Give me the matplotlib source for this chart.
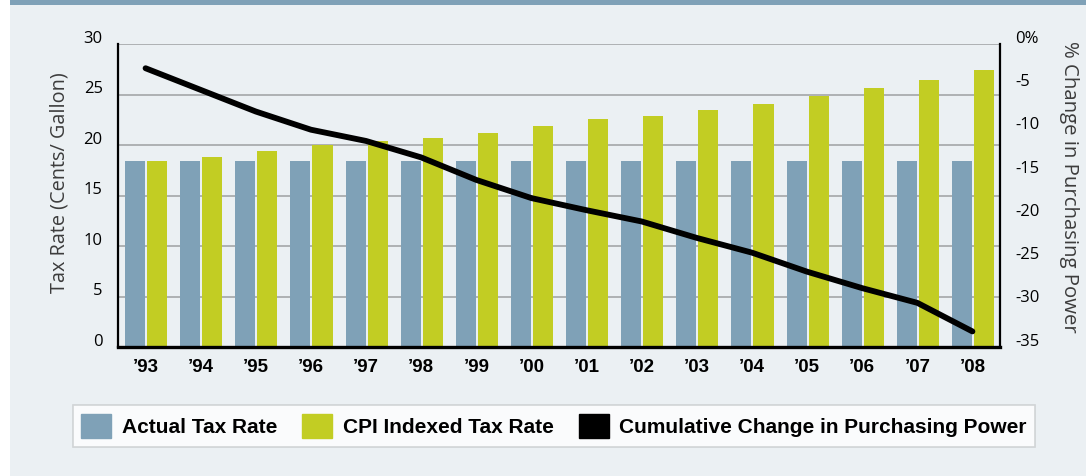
import numpy as np
import matplotlib.pyplot as plt
from matplotlib.patches import Patch, Rectangle
from matplotlib.transforms import ScaledTranslation

years = ["\u201993", "\u201994", "\u201995", "\u201996", "\u201997", "\u201998", "\u201999", "\u201900",
         "\u201901", "\u201902", "\u201903", "\u201904", "\u201905", "\u201906", "\u201907", "\u201908"]
actual_rate = [18.4] * 16
cpi_rate = [18.4, 18.8, 19.4, 20.0, 20.4, 20.7, 21.2, 21.9,
            22.6, 22.9, 23.5, 24.1, 24.9, 25.6, 26.4, 27.4]
purchasing_power = [-2.8, -5.3, -7.8, -9.9, -11.2, -13.1, -15.7, -17.8,
                    -19.2, -20.5, -22.4, -24.1, -26.3, -28.2, -29.9, -33.2]
left_ticks = [0, 5, 10, 15, 20, 25, 30]
right_ticks = [0, -5, -10, -15, -20, -25, -30, -35]
right_labels = ["0%", "-5", "-10", "-15", "-20", "-25", "-30", "-35"]

blue = "#7fa1b7"
green = "#c2cd23"
bg = "#ebf0f3"
label_col = "#3c3c3c"

fig = plt.figure(figsize=(10.86, 4.76), dpi=100)
fig.patch.set_facecolor(bg)
# white strip on the left and blue band on top
fig.patches.append(Rectangle((0, 0), 10 / 1086, 1, transform=fig.transFigure,
                             facecolor="white", edgecolor="none", zorder=0))
fig.patches.append(Rectangle((10 / 1086, 1 - 5 / 476), 1, 5 / 476, transform=fig.transFigure,
                             facecolor=blue, edgecolor="none", zorder=0))

ax = fig.add_axes([118 / 1086, 1 - 347 / 476, 882 / 1086, 303 / 476])
ax.set_facecolor("none")
x = np.arange(len(years))
w = 0.364
ax.bar(x - 0.19, actual_rate, w, color=blue, zorder=2)
ax.bar(x + 0.21, cpi_rate, w, color=green, zorder=2)
ax.set_xlim(-0.5, 15.5)
ax.set_ylim(0, 30)
ax.set_yticks(left_ticks)
ax.set_axisbelow(True)
ax.grid(axis="y", color="#a9acae", lw=1.3)
ax.set_xticks(x)
ax.set_xticklabels(years, fontfamily="Liberation Sans", fontweight="bold", fontsize=13.5)
ax.tick_params(axis="x", length=0, pad=9)
ax.tick_params(axis="y", length=0, pad=11, labelsize=12)
for s in ["top", "right"]:
    ax.spines[s].set_visible(False)
ax.spines["left"].set_linewidth(1.6)
ax.spines["bottom"].set_linewidth(2.4)
ax.set_ylabel("Tax Rate (Cents/ Gallon)", fontsize=14.3, fontfamily="Open Sans",
              color=label_col, va="center")
ax.yaxis.set_label_coords(-0.0658, 0.543)

shift = ScaledTranslation(0, -2 / 72, fig.dpi_scale_trans)
for lbl in ax.get_yticklabels():
    lbl.set_fontfamily("Open Sans")
    lbl.set_va("bottom")
    lbl.set_transform(lbl.get_transform() + shift)

ax2 = ax.twinx()
ax2.plot(x, purchasing_power, color="black", lw=4.2, solid_capstyle="round",
         solid_joinstyle="round", zorder=3)
ax2.set_ylim(-35, 0)
ax2.set_yticks(right_ticks)
ax2.set_yticklabels(right_labels)
ax2.tick_params(axis="y", length=0, pad=11, labelsize=12)
for s in ["top", "left", "bottom"]:
    ax2.spines[s].set_visible(False)
ax2.spines["right"].set_linewidth(1.6)
ax2.set_ylabel("% Change in Purchasing Power", fontsize=14.7, fontfamily="Open Sans",
               color=label_col, rotation=-90, va="center")
ax2.yaxis.set_label_coords(1.078, 0.53)
for lbl in ax2.get_yticklabels():
    lbl.set_fontfamily("Open Sans")
    lbl.set_va("bottom")
    lbl.set_transform(lbl.get_transform() + shift)

handles = [Patch(color=blue), Patch(color=green), Patch(color="black")]
labels = ["Actual Tax Rate", "CPI Indexed Tax Rate", "Cumulative Change in Purchasing Power"]
leg = fig.legend(handles, labels, loc="center", bbox_to_anchor=(554 / 1086, 1 - 426 / 476),
                 ncol=3, frameon=True, fancybox=False, edgecolor="#c8cbcd",
                 prop={"family": "Liberation Sans", "weight": "bold", "size": 15},
                 handlelength=1.45, handleheight=1.45, handletextpad=0.5,
                 columnspacing=1.2, borderpad=0.4, borderaxespad=0)
leg.get_frame().set_linewidth(1.2)
leg.get_frame().set_facecolor("white")

fig.savefig("out.png", dpi=100, facecolor=fig.get_facecolor())
